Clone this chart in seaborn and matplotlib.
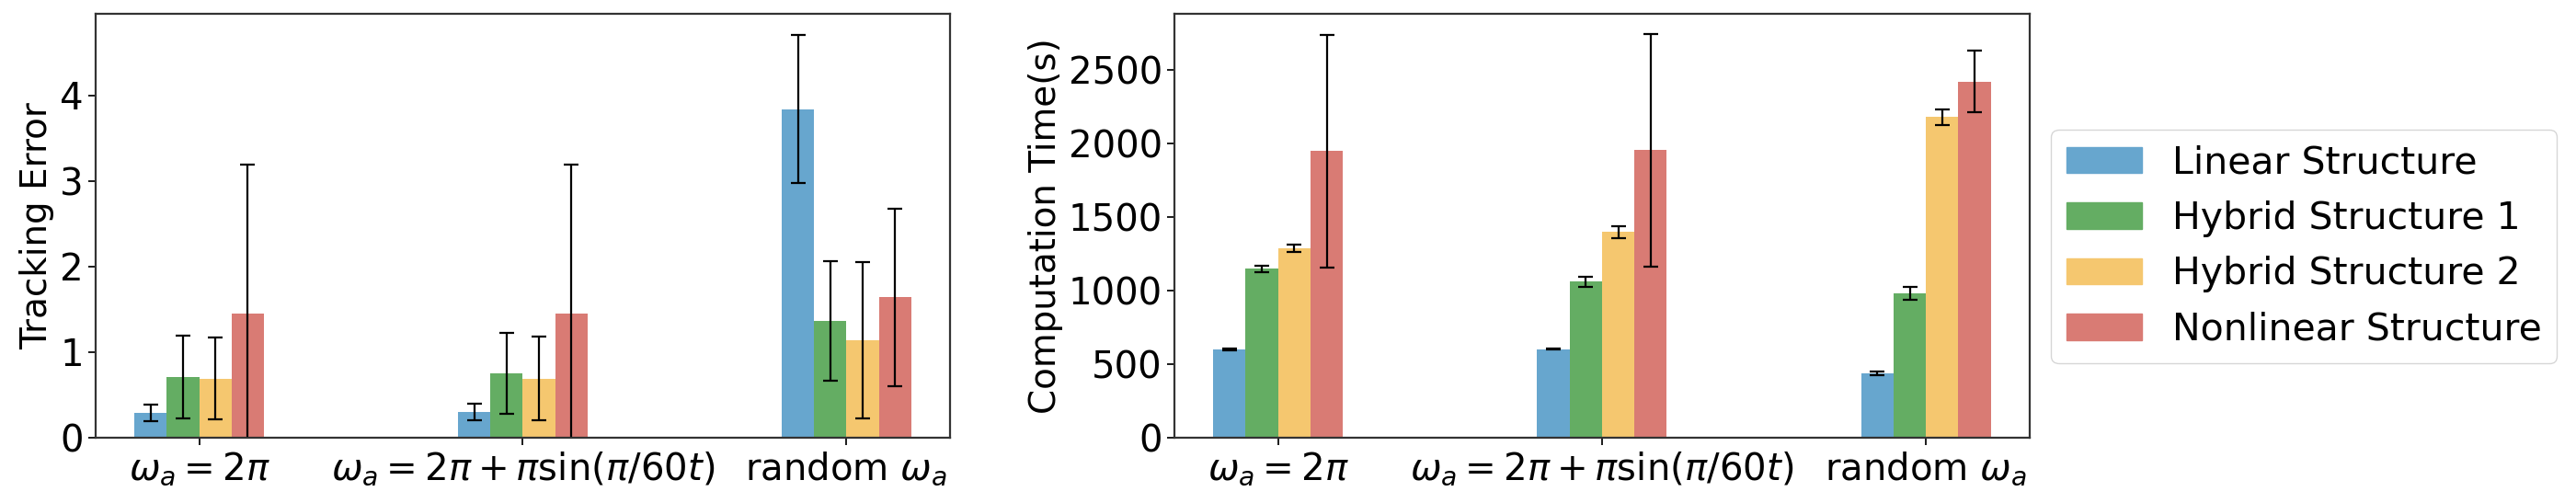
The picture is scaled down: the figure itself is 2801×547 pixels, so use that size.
import pandas as pd
import seaborn as sns
import matplotlib.pyplot as plt
from matplotlib.ticker import MultipleLocator

# data
scenarios = [r"$\omega_a = 2\pi$",
             r"$\omega_a = 2\pi + \pi \sin(\pi/60t)$",
             r"random $\omega_a$"]
structures = ["Linear Structure", "Hybrid Structure 1",
              "Hybrid Structure 2", "Nonlinear Structure"]
colors = ["#67A6CE", "#64AD63", "#F5C76F", "#D97B74"]

# tracking error: mean and error per structure (one value per scenario)
err_mean = {
    "Linear Structure":    [0.29, 0.30, 3.84],
    "Hybrid Structure 1":  [0.71, 0.75, 1.365],
    "Hybrid Structure 2":  [0.69, 0.69, 1.136],
    "Nonlinear Structure": [1.45, 1.45, 1.64],
}
err_std = {
    "Linear Structure":    [0.10, 0.10, 0.865],
    "Hybrid Structure 1":  [0.48, 0.47, 0.70],
    "Hybrid Structure 2":  [0.48, 0.49, 0.915],
    "Nonlinear Structure": [1.74, 1.74, 1.04],
}

# computation time (s)
time_mean = {
    "Linear Structure":    [599, 601, 438],
    "Hybrid Structure 1":  [1148, 1060, 982],
    "Hybrid Structure 2":  [1287, 1400, 2180],
    "Nonlinear Structure": [1949, 1955, 2422],
}
time_std = {
    "Linear Structure":    [5, 3, 13],
    "Hybrid Structure 1":  [22, 32, 45],
    "Hybrid Structure 2":  [23, 41, 53],
    "Nonlinear Structure": [790, 790, 211],
}


def to_frame(means):
    rows = []
    for s in structures:
        for sc, v in zip(scenarios, means[s]):
            rows.append({"scenario": sc, "structure": s, "value": v})
    return pd.DataFrame(rows)


sns.set_theme(style="ticks")
plt.rcParams.update({"font.family": ["DejaVu Sans"],
                     "font.size": 29,
                     "axes.labelsize": 28,
                     "xtick.labelsize": 29,
                     "ytick.labelsize": 29,
                     "legend.fontsize": 29.5,
                     "text.color": "black",
                     "axes.labelcolor": "black",
                     "xtick.color": "black",
                     "ytick.color": "black",
                     "axes.edgecolor": "#333333",
                     "mathtext.fontset": "dejavusans"})

fig = plt.figure(figsize=(28.01, 5.47), dpi=100)
ax1 = fig.add_axes([0.0371, 0.1298, 0.3317, 0.8428])
ax2 = fig.add_axes([0.4559, 0.1298, 0.3320, 0.8428])


def draw(ax, means, stds, ylabel):
    df = to_frame(means)
    sns.barplot(data=df, x="scenario", y="value", hue="structure",
                order=scenarios, hue_order=structures, palette=colors,
                width=0.4, gap=0, saturation=1, errorbar=None,
                linewidth=0, legend=False, ax=ax)
    # error bars on top of each bar
    for s, cont in zip(structures, ax.containers):
        xs = [p.get_x() + p.get_width() / 2 for p in cont.patches]
        ys = [p.get_height() for p in cont.patches]
        ax.errorbar(xs, ys, yerr=stds[s], fmt="none", ecolor="black",
                    capsize=5.5, elinewidth=1.6, capthick=1.6)
    ax.set_ylim(bottom=0)
    ax.set_xlabel("")
    ax.set_ylabel(ylabel)
    for sp in ax.spines.values():
        sp.set_visible(True)
        sp.set_linewidth(1.6)


draw(ax1, err_mean, err_std, "Tracking Error")
draw(ax2, time_mean, time_std, "Computation Time(s)")
ax1.yaxis.set_major_locator(MultipleLocator(1))
ax2.yaxis.set_major_locator(MultipleLocator(500))

handles = [plt.Rectangle((0, 0), 1, 1, color=c) for c in colors]
fig.legend(handles, structures, loc="center left",
           bbox_to_anchor=(0.789, 0.51), frameon=True)

fig.savefig("out.png", dpi=100)
